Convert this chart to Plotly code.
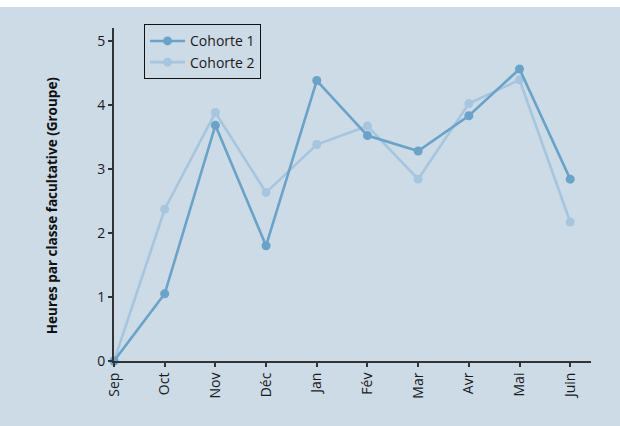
import plotly.graph_objects as go

# Monthly optional-class hours per group, two cohorts
months = ["Sep", "Oct", "Nov", "Déc", "Jan", "Fév", "Mar", "Avr", "Mai", "Juin"]
cohorte_1 = [0, 1.05, 3.68, 1.80, 4.38, 3.52, 3.28, 3.83, 4.56, 2.84]
cohorte_2 = [0, 2.37, 3.88, 2.63, 3.38, 3.67, 2.84, 4.02, 4.39, 2.17]
y_ticks = [0, 1, 2, 3, 4, 5]

FONT = "Open Sans"
C1 = "#68a3c9"
C2 = "#a6c5de"
AXIS = "#333333"

fig = go.Figure()
fig.add_trace(go.Scatter(
    x=months, y=cohorte_2, name="Cohorte 2", mode="lines+markers",
    line=dict(color=C2, width=2.6), marker=dict(color=C2, size=9),
    cliponaxis=False,
))
fig.add_trace(go.Scatter(
    x=months, y=cohorte_1, name="Cohorte 1", mode="lines+markers",
    line=dict(color=C1, width=2.6), marker=dict(color=C1, size=9),
    cliponaxis=False,
))

fig.update_layout(
    width=620, height=426,
    margin=dict(l=114, r=29, t=28, b=65),
    paper_bgcolor="white",
    plot_bgcolor="rgba(0,0,0,0)",
    font=dict(family=FONT, size=14, color="#1a1a1a"),
    showlegend=True,
    legend=dict(
        x=0.063, y=1.011, xanchor="left", yanchor="top",
        bgcolor="rgba(0,0,0,0)", bordercolor="#111111", borderwidth=1,
        traceorder="reversed", font=dict(size=14),
        itemwidth=35,
    ),
    shapes=[dict(
        type="rect", xref="paper", yref="paper", layer="below",
        x0=-114 / 477, x1=(620 - 114) / 477,
        y0=-65 / 333, y1=(426 - 7 - 65) / 333,
        fillcolor="#cddbe7", line=dict(width=0),
    )],
    annotations=[dict(
        text="<b>Heures par classe facultative (Groupe)</b>",
        xref="paper", yref="paper", x=-62 / 477, y=(360.7 - 205) / 333,
        xanchor="center", yanchor="middle", textangle=-90, showarrow=False,
        font=dict(size=13.5, color="#111111"),
    )],
)

fig.update_xaxes(
    type="category", range=[0, 9.41],
    showgrid=False, zeroline=False,
    showline=True, linecolor=AXIS, linewidth=2,
    ticks="outside", ticklen=4, tickwidth=1.5, tickcolor=AXIS,
    tickangle=-90, tickfont=dict(size=14),
)
fig.update_yaxes(
    range=[0, 5.2], tickvals=y_ticks,
    showgrid=False, zeroline=False,
    showline=True, linecolor=AXIS, linewidth=2,
    ticks="outside", ticklen=4, tickwidth=1.5, tickcolor=AXIS,
    tickfont=dict(size=14),
)

fig.write_html("out.html")
